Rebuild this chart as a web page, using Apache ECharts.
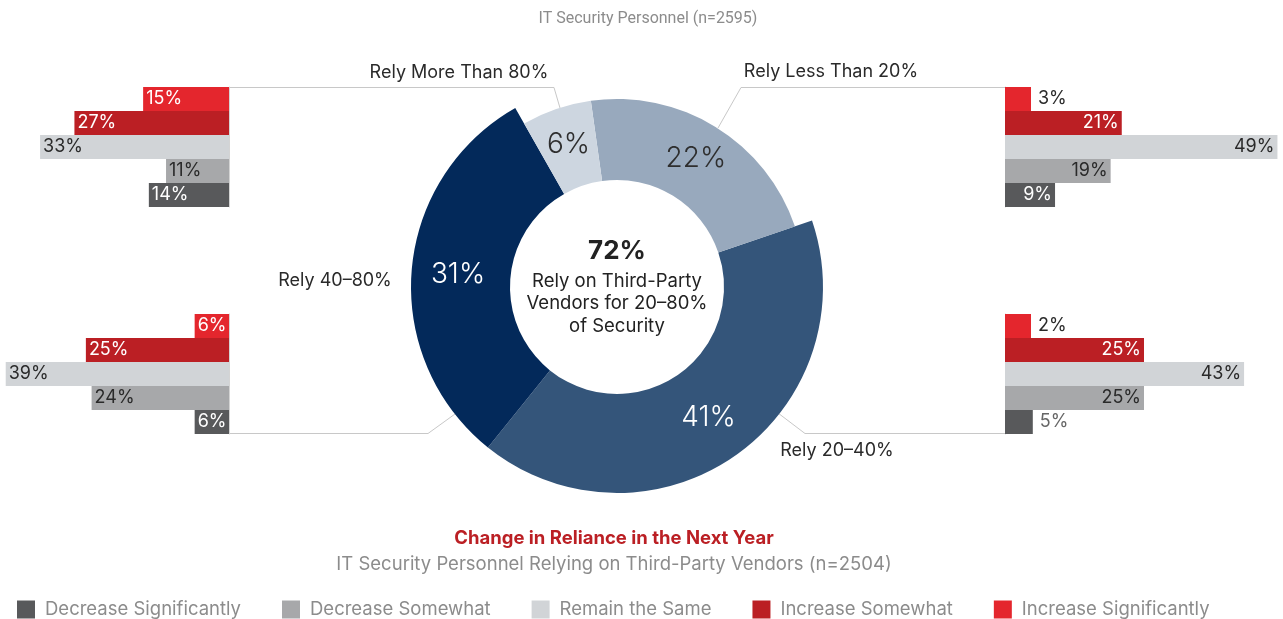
<!DOCTYPE html>
<html>
<head>
<meta charset="utf-8">
<script src="https://cdn.jsdelivr.net/npm/echarts@6/dist/echarts.min.js"></script>
<style>
  html, body { margin: 0; padding: 0; background: #fff; }
  #main { width: 1283px; height: 619px; }
</style>
</head>
<body>
<div id="main"></div>
<script>
// 分类 (从上到下)
var categories = ['Increase Significantly', 'Increase Somewhat', 'Remain the Same', 'Decrease Somewhat', 'Decrease Significantly'];
var legendOrder = ['Decrease Significantly', 'Decrease Somewhat', 'Remain the Same', 'Increase Somewhat', 'Increase Significantly'];
var catColors = ['#e4262d', '#bb1f24', '#d1d4d7', '#a7a8aa', '#58595b'];
var catText = ['#fff', '#fff', '#2a2a2a', '#2a2a2a', '#fff'];

// 饼图
var pieNames = ['Rely Less Than 20%', 'Rely 20\u201340%', 'Rely 40\u201380%', 'Rely More Than 80%'];
var pieValues = [22, 41, 31, 6];
var pieColors = ['#98a9bd', '#34557a', '#03295a', '#cdd6e0'];
var pieBig = [false, true, true, false];

// 每组柱状图
var relyMore80 = [15, 27, 33, 11, 14];
var relyLess20 = [3, 21, 49, 19, 9];
var rely40to80 = [6, 25, 39, 24, 6];
var rely20to40 = [2, 25, 43, 25, 5];

var font = 'Inter';
var lineColor = '#c8c8c8';

var chart = echarts.init(document.getElementById('main'));

var groups = [
    { data: relyMore80, left: 0, top: 87, width: 229, max: 40, side: 'left' },
    { data: relyLess20, left: 1005, top: 87, width: 279, max: 50, side: 'right' },
    { data: rely40to80, left: 0, top: 314, width: 229, max: 40, side: 'left' },
    { data: rely20to40, left: 1005, top: 314, width: 279, max: 50, side: 'right' }
];

var grids = [], xAxes = [], yAxes = [], series = [];
for (var g = 0; g < groups.length; g++) {
    var gr = groups[g];
    var isLeft = gr.side === 'left';
    grids.push({ left: gr.left, top: gr.top, width: gr.width, height: 120 });
    xAxes.push({
        gridIndex: g, type: 'value', min: 0, max: gr.max, inverse: isLeft,
        show: false, splitLine: { show: false }
    });
    yAxes.push({
        gridIndex: g, type: 'category', data: categories, inverse: true,
        position: isLeft ? 'right' : 'left',
        axisLine: { show: true, lineStyle: { color: '#d4d4d4', width: 1 } },
        axisTick: { show: false }, axisLabel: { show: false }
    });
    for (var c = 0; c < categories.length; c++) {
        var d = [];
        for (var k = 0; k < categories.length; k++) {
            d.push(k === c ? gr.data[k] : '-');
        }
        var v = gr.data[c];
        var outside = !isLeft && v <= 5;
        series.push({
            name: categories[c],
            type: 'bar',
            xAxisIndex: g, yAxisIndex: g,
            stack: 'g' + g,
            barWidth: '100%',
            barMinHeight: 26,
            data: d,
            itemStyle: { color: catColors[c] },
            label: {
                show: true,
                position: outside ? 'right' : (isLeft ? 'insideLeft' : 'insideRight'),
                distance: outside ? 7 : 3,
                formatter: '{c}%',
                fontFamily: font, fontSize: 18,
                color: outside ? (c === 4 ? '#666' : '#2a2a2a') : catText[c]
            },
            emphasis: { disabled: true },
            animation: false
        });
    }
}

// 饼图两层: 小半径 (浅色) + 大半径 (深色)
var pieInner = [], pieOuter = [];
for (var i = 0; i < pieValues.length; i++) {
    pieInner.push({
        name: pieNames[i], value: pieValues[i],
        itemStyle: { color: pieBig[i] ? 'rgba(0,0,0,0)' : pieColors[i] },
        label: { show: !pieBig[i], color: '#2e2e2e' }
    });
    pieOuter.push({
        name: pieNames[i], value: pieValues[i],
        itemStyle: { color: pieBig[i] ? pieColors[i] : 'rgba(0,0,0,0)' },
        label: { show: pieBig[i], color: '#fff' }
    });
}
var pieBase = {
    type: 'pie', center: [617, 287], startAngle: 98, clockwise: true,
    label: { position: 'inside', formatter: '{c}%', fontFamily: font, fontSize: 28, fontWeight: 300 },
    labelLine: { show: false }, emphasis: { disabled: true }, silent: true, animation: false
};
series.push(Object.assign({}, pieBase, { radius: [107, 188], data: pieInner, z: 3 }));
series.push(Object.assign({}, pieBase, { radius: [107, 206], data: pieOuter, z: 2 }));

var txt = { fontFamily: font, fontSize: 18, fill: '#2a2a2a' };
function label(text, x, y) {
    return { type: 'text', x: x, y: y, style: Object.assign({ text: text, textAlign: 'center', textVerticalAlign: 'middle' }, txt) };
}
function line(points) {
    return { type: 'polyline', shape: { points: points }, style: { stroke: lineColor, lineWidth: 1, fill: null }, silent: true };
}

var option = {
    backgroundColor: '#fff',
    textStyle: { fontFamily: font },
    title: [
        {
            text: 'IT Security Personnel (n=2595)', left: 648, top: 11, textAlign: 'center', padding: 0,
            textStyle: { fontFamily: 'Roboto', fontSize: 16, fontWeight: 'normal', color: '#8c8c8c' }
        },
        {
            text: '{a|72%}\n{b|Rely on Third-Party}\n{b|Vendors for 20\u201380%}\n{b|of Security}',
            left: 617, top: 233, textAlign: 'center', padding: 0,
            textStyle: {
                fontWeight: 'normal',
                rich: {
                    a: { fontFamily: font, fontSize: 26, fontWeight: 'bold', color: '#222', lineHeight: 37, align: 'center' },
                    b: { fontFamily: font, fontSize: 18.5, fontWeight: 'normal', color: '#222', lineHeight: 22.5, align: 'center' }
                }
            }
        },
        {
            text: 'Change in Reliance in the Next Year', left: 614, top: 529, textAlign: 'center', padding: 0,
            textStyle: { fontFamily: font, fontSize: 18.5, fontWeight: 'bold', color: '#bb1f24' }
        },
        {
            text: 'IT Security Personnel Relying on Third-Party Vendors (n=2504)', left: 614, top: 555, textAlign: 'center', padding: 0,
            textStyle: { fontFamily: font, fontSize: 18.5, fontWeight: 'normal', color: '#8c8c8c' }
        }
    ],
    legend: {
        data: legendOrder, left: 17, top: 600, padding: 0, itemWidth: 18, itemHeight: 18, itemGap: 41,
        icon: 'rect', selectedMode: false,
        textStyle: { fontFamily: font, fontSize: 18.5, color: '#8c8c8c', padding: [0, 0, 0, 5] }
    },
    grid: grids,
    xAxis: xAxes,
    yAxis: yAxes,
    series: series,
    graphic: [
        line([[229, 87.5], [554, 87.5], [560, 108]]),
        line([[1005, 87.5], [741, 87.5], [718, 128]]),
        line([[229, 433.5], [428, 433.5], [455, 414]]),
        line([[778, 413], [805, 433.5], [1005, 433.5]]),
        label(pieNames[3], 459, 73),
        label(pieNames[0], 831, 72),
        label(pieNames[2], 335, 281),
        label(pieNames[1], 837, 451)
    ]
};

chart.setOption(option);
</script>
</body>
</html>
